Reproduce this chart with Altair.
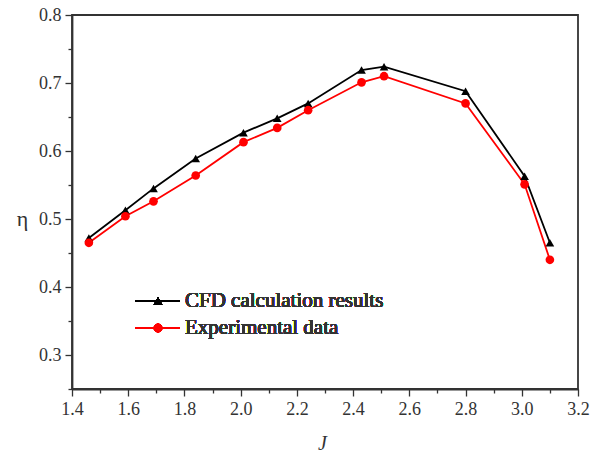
import altair as alt
import pandas as pd

J = [1.46, 1.59, 1.69, 1.84, 2.01, 2.13, 2.24, 2.43, 2.51, 2.80, 3.01, 3.10]
cfd = [0.472, 0.513, 0.545, 0.589, 0.627, 0.648, 0.670, 0.719, 0.724, 0.688, 0.563, 0.465]
exp = [0.465, 0.504, 0.526, 0.564, 0.613, 0.634, 0.660, 0.701, 0.710, 0.670, 0.551, 0.440]
series = ["CFD calculation results", "Experimental data"]
colors = ["#000000", "#ff0000"]
shapes = ["triangle-up", "circle"]

x_ticks = [1.4, 1.5, 1.6, 1.7, 1.8, 1.9, 2.0, 2.1, 2.2, 2.3, 2.4, 2.5, 2.6, 2.7, 2.8, 2.9, 3.0, 3.1, 3.2]
y_ticks = [0.25, 0.3, 0.35, 0.4, 0.45, 0.5, 0.55, 0.6, 0.65, 0.7, 0.75, 0.8]

rows = []
for j, a, b in zip(J, cfd, exp):
    rows.append({"J": j, "eta": a, "series": series[0]})
    rows.append({"J": j, "eta": b, "series": series[1]})
df = pd.DataFrame(rows)

FONT = "Liberation Serif"
AX = "#333333"
x_major = "abs(datum.value*5 - round(datum.value*5)) < 0.001"
y_major = "abs(datum.value*10 - round(datum.value*10)) < 0.001"

xenc = alt.X("J:Q", scale=alt.Scale(domain=[1.4, 3.2], nice=False, zero=False),
             axis=alt.Axis(values=x_ticks, title="J", grid=False,
                           labelExpr=f"{x_major} ? format(datum.value, '.1f') : ''",
                           tickSize={"condition": {"test": x_major, "value": 7}, "value": 4},
                           labelFont=FONT, labelFontSize=18, labelColor=AX, labelPadding=4,
                           titleFont=FONT, titleFontSize=20, titleFontStyle="italic",
                           titleFontWeight="normal", titleColor=AX,
                           titleX=250, titleY=54, titleBaseline="middle",
                           domainColor=AX, tickColor=AX, domainWidth=1.8, tickWidth=1.3,
                           labelFlush=False, labelOverlap=False))
yenc = alt.Y("eta:Q", scale=alt.Scale(domain=[0.25, 0.8], nice=False, zero=False),
             axis=alt.Axis(values=y_ticks, title="η", grid=False,
                           labelExpr=f"{y_major} ? format(datum.value, '.1f') : ''",
                           tickSize={"condition": {"test": y_major, "value": 7}, "value": 4},
                           labelFont=FONT, labelFontSize=18, labelColor=AX, labelPadding=4,
                           titleFont=FONT, titleFontSize=22, titleFontWeight="normal",
                           titleColor=AX, titleAngle=0,
                           titleX=-50, titleY=203, titleBaseline="middle", titleAlign="center",
                           domainColor=AX, tickColor=AX, domainWidth=1.8, tickWidth=1.3,
                           labelFlush=False, labelOverlap=False))

color = alt.Color("series:N", scale=alt.Scale(domain=series, range=colors), legend=None)
shape = alt.Shape("series:N", scale=alt.Scale(domain=series, range=shapes), legend=None)

lines = alt.Chart(df).mark_line(strokeWidth=1.8).encode(x=xenc, y=yenc, color=color, detail="series:N")
points = alt.Chart(df).mark_point(filled=True, size=75, opacity=1).encode(
    x=xenc, y=yenc, color=color, shape=shape)

legend_layers = []
for i, (name, c, s) in enumerate(zip(series, colors, shapes)):
    ypix = 286 + i * 27
    legend_layers.append(alt.Chart(df).mark_rule(color=c, strokeWidth=1.8).encode(
        x=alt.value(63), x2=alt.value(108), y=alt.value(ypix)))
    legend_layers.append(alt.Chart(df).mark_point(filled=True, size=75, opacity=1, color=c, shape=s).encode(
        x=alt.value(86), y=alt.value(ypix)))
    legend_layers.append(alt.Chart(df).mark_text(text=name, align="left", baseline="middle",
                                                 font=FONT, fontSize=21, color=AX).encode(
        x=alt.value(113), y=alt.value(ypix)))

chart = alt.layer(lines, points, *legend_layers).properties(
    width=506, height=374,
    autosize=alt.AutoSizeParams(type="none"),
    padding={"left": 72, "top": 15, "right": 12, "bottom": 65},
    background="white",
).configure_view(stroke=AX, strokeWidth=1.8)

chart.save("out.html", embed_options={"renderer": "svg", "actions": False})
